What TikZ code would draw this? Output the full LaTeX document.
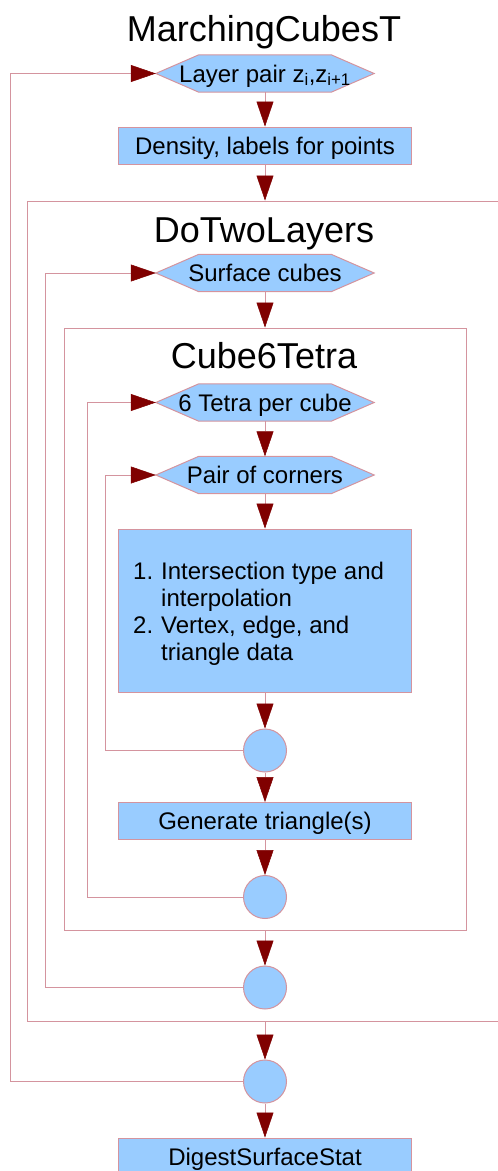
\documentclass[tikz,border=0pt]{standalone}
\usepackage{fontspec}
\setmainfont{Liberation Sans}
\usetikzlibrary{arrows.meta,backgrounds}
\definecolor{boxblue}{HTML}{99CCFF}
\definecolor{linepink}{HTML}{D4949E}
\definecolor{arrowred}{HTML}{800000}
\newcommand\bodyfont{\fontsize{24}{27}\selectfont}
\newcommand\titlefont{\fontsize{36}{43}\selectfont}
\tikzset{
  conn/.style={draw=linepink, line width=1pt, -{Triangle[length=25pt,width=17pt,color=arrowred,line width=0.5pt]}},
  boxn/.style={rectangle, draw=linepink, fill=boxblue, line width=1pt, minimum width=293pt, minimum height=37pt, inner sep=0pt, text height=17pt, text depth=0pt, font=\bodyfont},
  hexn/.style={rectangle, minimum width=218pt, minimum height=37pt, inner sep=0pt, text height=17pt, text depth=0pt, font=\bodyfont},
  hexline/.style={draw=linepink, fill=boxblue, line width=1pt},
  circn/.style={circle, draw=linepink, fill=boxblue, line width=1pt, minimum size=43pt, inner sep=0pt},
  titlen/.style={anchor=base, font=\titlefont, inner sep=0pt},
  framen/.style={rectangle, draw=linepink, line width=1pt, inner sep=0pt},
}
\newcommand\hexbox[4]{%
  \node[hexn] (#1) at (#2,#3) {#4};
  \begin{scope}[on background layer]
    \path[hexline] (#1.west) -- ([xshift=43pt]#1.north west) -- ([xshift=-43pt]#1.north east)
      -- (#1.east) -- ([xshift=-43pt]#1.south east) -- ([xshift=43pt]#1.south west) -- cycle;
  \end{scope}}
\begin{document}
\begin{tikzpicture}[x=1pt,y=-1pt]
\useasboundingbox (0,0) rectangle (498,1171);
\clip (0,0) rectangle (498,1171);

% titles
\node[titlen] (tmc) at (264,41) {MarchingCubesT};
\node[titlen] (tdtl) at (264,242) {DoTwoLayers};
\node[titlen] (tc6t) at (264,368) {Cube6Tetra};

% frames
\node[framen, minimum width=476pt, minimum height=820pt] (dtl) at (265,611) {};
\node[framen, minimum width=402pt, minimum height=602pt] (c6t) at (265,629) {};

% hexagons
\hexbox{hex1}{265}{73.5}{Layer pair z\textsubscript{i},z\textsubscript{i+1}}
\hexbox{hex2}{265}{273}{Surface cubes}
\hexbox{hex3}{265}{402.5}{6 Tetra per cube}
\hexbox{hex4}{265}{475}{Pair of corners}

% boxes
\node[boxn] (dens) at (265,145.5) {Density, labels for points};
\node[boxn, minimum height=163pt] (calc) at (265,610.5) {};
\node[anchor=base west, inner sep=0pt, font=\bodyfont] (calctext) at (133,579)
  {\parbox[t]{275pt}{\bodyfont
   \makebox[28pt][l]{1.}Intersection type and\\
   \hspace*{28pt}interpolation\\
   \makebox[28pt][l]{2.}Vertex, edge, and\\
   \hspace*{28pt}triangle data}};
\node[boxn] (gen) at (265,821) {Generate triangle(s)};
\node[boxn] (digest) at (265,1156.5) {DigestSurfaceStat};

% circles
\node[circn] (c1) at (265,750.5) {};
\node[circn] (c2) at (265,897) {};
\node[circn] (c3) at (265,987.5) {};
\node[circn] (c4) at (265,1081.5) {};

% loop x positions
\coordinate (x1) at (105,0);
\coordinate (x2) at (87,0);
\coordinate (x3) at (45,0);
\coordinate (x4) at (10,0);

% forward connectors
\draw[conn] (hex1.south) -- (dens.north);
\draw[conn] (dens.south) -- (dtl.north);
\draw[conn] (hex2.south) -- (c6t.north);
\draw[conn] (hex3.south) -- (hex4.north);
\draw[conn] (hex4.south) -- (calc.north);
\draw[conn] (calc.south) -- (c1.north);
\draw[conn] (c1.south) -- (gen.north);
\draw[conn] (gen.south) -- (c2.north);
\draw[conn] (c6t.south) -- (c3.north);
\draw[conn] (dtl.south) -- (c4.north);
\draw[conn] (c4.south) -- (digest.north);

% loop-back connectors
\draw[conn] (c1.west) -- (c1.west -| x1) |- (hex4.west);
\draw[conn] (c2.west) -- (c2.west -| x2) |- (hex3.west);
\draw[conn] (c3.west) -- (c3.west -| x3) |- (hex2.west);
\draw[conn] (c4.west) -- (c4.west -| x4) |- (hex1.west);
\end{tikzpicture}
\end{document}
